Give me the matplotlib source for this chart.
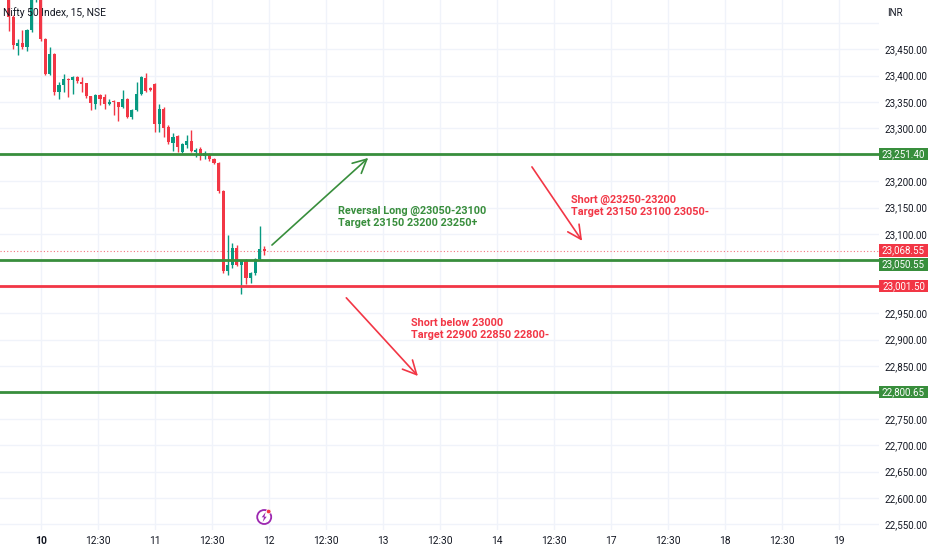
import matplotlib
matplotlib.use('Agg')
import matplotlib.pyplot as plt
from matplotlib.patches import Rectangle, Circle, Polygon
import matplotlib.transforms as mtransforms

plt.rcParams['font.family'] = ['Roboto', 'DejaVu Sans']

# ---------------- data ----------------
first_bar = -8          # bar index of first candle (Feb 7 tail)
opens = [23560, 23552, 23510, 23456, 23461, 23454, 23486, 23545,
         23545, 23469, 23403, 23441, 23369, 23382, 23393, 23391, 23397, 23388,
         23385, 23361, 23347, 23363, 23359, 23347, 23352, 23349, 23341, 23355,
         23322, 23334, 23366, 23395, 23376,
         23384, 23309, 23337, 23303, 23273, 23286, 23256, 23268, 23276, 23256,
         23261, 23248, 23252, 23242, 23234, 23181, 23029, 23042, 23074, 23042,
         23051, 23017, 23026, 23053, 23072]
highs = [23575, 23560, 23515, 23469, 23486, 23488, 23565, 23575,
         23560, 23471, 23454, 23443, 23388, 23403, 23395, 23399, 23399, 23397,
         23386, 23362, 23366, 23366, 23366, 23355, 23353, 23350, 23373, 23358,
         23337, 23388, 23400, 23405, 23378,
         23386, 23347, 23340, 23306, 23292, 23288, 23272, 23288, 23297, 23262,
         23264, 23258, 23254, 23244, 23236, 23183, 23098, 23083, 23080, 23051,
         23053, 23028, 23054, 23116, 23078]
lows = [23548, 23485, 23450, 23439, 23450, 23446, 23482, 23540,
        23466, 23401, 23401, 23363, 23356, 23369, 23359, 23365, 23386, 23368,
        23357, 23335, 23337, 23345, 23337, 23344, 23325, 23314, 23338, 23320,
        23318, 23333, 23364, 23369, 23370,
        23293, 23293, 23284, 23271, 23257, 23256, 23254, 23262, 23255, 23245,
        23240, 23242, 23238, 23232, 23177, 23026, 23023, 23036, 23040, 22986,
        23005, 23007, 23022, 23050, 23061]
closes = [23552, 23510, 23458, 23461, 23454, 23486, 23545, 23559,
          23469, 23403, 23441, 23369, 23382, 23393, 23391, 23397, 23389, 23384,
          23361, 23348, 23363, 23356, 23346, 23350, 23349, 23341, 23356, 23322,
          23335, 23366, 23397, 23371, 23372,
          23309, 23337, 23301, 23274, 23284, 23265, 23270, 23276, 23257, 23259,
          23248, 23254, 23242, 23234, 23181, 23029, 23042, 23073, 23042, 23049,
          23017, 23026, 23052, 23071, 23068.55]

bars_per_day = 25
day_labels = ['10', '11', '12', '13', '14', '17', '18', '19']
mid_label = '12:30'
mid_offset = 12.6

price_ticks = [23450, 23400, 23350, 23300, 23200, 23150, 23100,
               22950, 22900, 22850, 22750, 22700, 22650, 22600, 22550]
grid_prices = list(range(22550, 23501, 50))

levels = [23251.40, 23050.55, 23001.50, 22800.65]
level_kinds = ['long', 'long', 'short', 'long']
last_price = 23068.55

# annotations: (text, x bar, price, colour kind)
notes = [
    ("Reversal Long @23050-23100\nTarget 23150 23200 23250+", 65.2, 23132, 'long'),
    ("Short @23250-23200\nTarget 23150 23100 23050-", 116.3, 23153, 'short'),
    ("Short below 23000\nTarget 22900 22850 22800-", 81.2, 22920, 'short'),
]
arrows = [
    ((50.7, 23079), (71.8, 23244), 'long'),
    ((107.7, 23227), (118.7, 23087), 'short'),
    ((67.0, 22979), (82.7, 22831), 'short'),
]

# ---------------- style ----------------
UP = '#089981'
DOWN = '#f23645'
LONG = '#388e3c'
SHORT = '#f23645'
GRID = '#f0f3fa'
TXT = '#131722'
kind_col = {'long': LONG, 'short': SHORT}

W, H = 932, 550
AX_R = 879
fig = plt.figure(figsize=(W / 100, H / 100), dpi=100)
fig.patch.set_facecolor('white')
ax = fig.add_axes([0, 20 / H, AX_R / W, 530 / H])
ax.set_facecolor('white')
ax.set_xlim(-8.93, 183.8)
ax.set_ylim(22539.3, 23543.1)
for s in ax.spines.values():
    s.set_visible(False)

# grid
ax.set_yticks(grid_prices)
ax.set_yticklabels([f"{p:,.2f}" if p in price_ticks else "" for p in grid_prices])
ax.yaxis.tick_right()
ax.tick_params(axis='y', length=0, pad=3.7, labelsize=7.0, labelcolor=TXT)

xt, xl = [], []
for k, d in enumerate(day_labels):
    xt.append(k * bars_per_day)
    xl.append(d)
    if k < len(day_labels) - 1:
        xt.append(k * bars_per_day + mid_offset)
        xl.append(mid_label)
ax.set_xticks(xt)
ax.set_xticklabels(xl)
ax.tick_params(axis='x', length=0, pad=4, labelsize=7.4, labelcolor=TXT)
ax.get_xticklabels()[0].set_fontweight('bold')
ax.grid(True, color=GRID, lw=1, zorder=0)

# candles
bw = 0.68
for j, (o, h, l, c) in enumerate(zip(opens, highs, lows, closes)):
    x = first_bar + j
    col = UP if c >= o else DOWN
    ax.vlines(x, l, h, color=col, lw=1, zorder=3)
    lo, hi = min(o, c), max(o, c)
    ax.add_patch(Rectangle((x - bw / 2, lo), bw, max(hi - lo, 1.2),
                           facecolor=col, edgecolor='none', zorder=4))

# current price dotted line
ax.axhline(last_price, color=DOWN, lw=0.8, ls=(0, (1, 2)), alpha=0.7, zorder=2)

# horizontal levels
for p, k in zip(levels, level_kinds):
    ax.axhline(p, color=kind_col[k], lw=2, zorder=5)

# arrows
for (x0, y0), (x1, y1), k in arrows:
    ax.annotate('', xy=(x1, y1), xytext=(x0, y0),
                arrowprops=dict(arrowstyle='->,head_length=0.7,head_width=0.35',
                                color=kind_col[k], lw=1.2, mutation_scale=14,
                                shrinkA=0, shrinkB=0), zorder=6)

# notes
for t, x, y, k in notes:
    ax.text(x, y, t, color=kind_col[k], fontsize=7.8, fontweight='bold',
            ha='left', va='center', linespacing=1.35, zorder=7)

# price labels on right scale
fig.canvas.draw()
def ypix(p):
    return ax.transData.transform((0, p))[1]

boxes = [(last_price, DOWN)]
for p, k in zip(levels, level_kinds):
    boxes.append((p, kind_col[k]))
bh = 12.5
gap = 13.8
items = sorted(boxes, key=lambda b: -b[0])
placed = []
for p, col in items:
    yc = ypix(p)
    if placed and placed[-1] - yc < gap:
        yc = placed[-1] - gap
    placed.append(yc)
    fig.add_artist(Rectangle((AX_R, yc - bh / 2), 49, bh, facecolor=col, edgecolor='none',
                             transform=mtransforms.IdentityTransform()))
    fig.text((AX_R + 24.5) / W, yc / H, f"{p:,.2f}", color='white', fontsize=7.0,
             ha='center', va='center')

# header texts
fig.text(3 / W, 1 - 13 / H, "Nifty 50 Index, 15, NSE", color=TXT, fontsize=7.4,
         ha='left', va='center')
fig.text(887 / W, 1 - 13 / H, "INR", color=TXT, fontsize=7, ha='left', va='center')

# event icon at last bar
ex = ax.transData.transform((first_bar + len(closes) - 1, 0))[0]
ey = H - 517
idt = mtransforms.IdentityTransform()
fig.add_artist(Circle((ex, ey), 7, facecolor='white', edgecolor='#9c27b0', lw=1.3, transform=idt))
bolt = [(ex + 1.5, ey + 5), (ex - 2.5, ey - 0.3), (ex - 0.2, ey - 0.3),
        (ex - 1.5, ey - 5), (ex + 2.5, ey + 0.3), (ex + 0.2, ey + 0.3)]
fig.add_artist(Polygon(bolt, closed=True, facecolor='#9c27b0', edgecolor='none', transform=idt))
fig.add_artist(Circle((ex + 4.5, ey + 5.5), 2.3, facecolor=DOWN, edgecolor='white', lw=0.5, transform=idt))

fig.savefig('out.png', dpi=100)
